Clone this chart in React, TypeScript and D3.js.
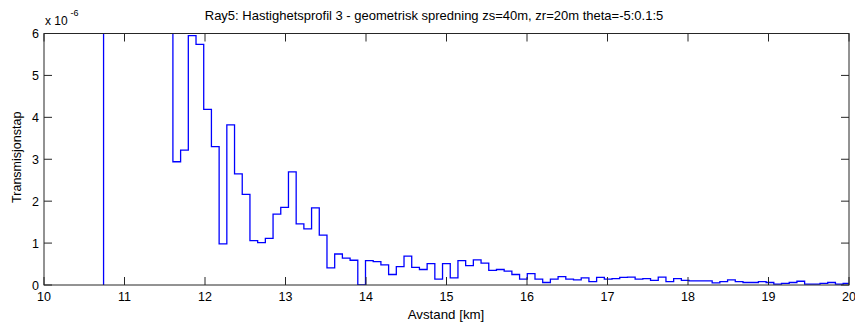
import React from "react";
import * as d3 from "d3";

// x grid of the range bins [km]
const binStart = 10.74;
const binWidth = 0.0957;
// Transmission loss per bin (x 1e-6); first 9 bins are off-scale (> 6)
const values = [
  9.2, 13.5, 17.0, 12.4, 10.1, 8.6, 11.3, 7.8, 6.9,
  2.94, 3.22, 5.95, 5.74, 4.19, 3.3, 0.98, 3.82, 2.65, 2.16,
  1.06, 1.01, 1.11, 1.69, 1.85, 2.7, 1.46, 1.34, 1.84, 1.19,
  0.41, 0.74, 0.64, 0.59, 0.0, 0.58, 0.56, 0.48, 0.25, 0.44,
  0.69, 0.42, 0.37, 0.51, 0.14, 0.51, 0.17, 0.58, 0.46, 0.6,
  0.52, 0.35, 0.37, 0.33, 0.25, 0.14, 0.27, 0.14, 0.06, 0.14,
  0.2, 0.14, 0.12, 0.17, 0.08, 0.18, 0.14, 0.15, 0.18, 0.19,
  0.14, 0.15, 0.11, 0.19, 0.08, 0.15, 0.11, 0.1, 0.1, 0.1,
  0.05, 0.08, 0.12, 0.08, 0.06, 0.06, 0.08, 0.06, 0.02, 0.04,
  0.06, 0.09, 0.02, 0.02, 0.04, 0.06, 0.02, 0.04,
];
const xTicks = [10, 11, 12, 13, 14, 15, 16, 17, 18, 19, 20];
const yTicks = [0, 1, 2, 3, 4, 5, 6];
const title = "Ray5: Hastighetsprofil 3 - geometrisk spredning zs=40m, zr=20m theta=-5:0.1:5";
const xLabel = "Avstand [km]";
const yLabel = "Transmisjonstap";

const W = 855;
const H = 324;
const L = 44, R = 849, T = 33.5, B = 285;
const font = "'Liberation Sans', Arial, sans-serif";
const axisColor = "#262626";

export default function App() {
  const x = d3.scaleLinear().domain([10, 20]).range([L, R]);
  const y = d3.scaleLinear().domain([0, 6]).range([B, T]);

  const pts: [number, number][] = [[binStart, 0]];
  values.forEach((v, i) => pts.push([binStart + i * binWidth, v]));
  pts.push([binStart + values.length * binWidth, values[values.length - 1]]);

  const line = d3
    .line<[number, number]>()
    .x((d) => x(d[0]))
    .y((d) => y(d[1]))
    .curve(d3.curveStepAfter);

  const tl = 8;

  return (
    <svg
      width={W}
      height={H}
      style={{ position: "absolute", left: 0, top: 0, background: "#fff" }}
      fontFamily={font}
    >
      <defs>
        <clipPath id="plotclip">
          <rect x={L} y={T} width={R - L} height={B - T} />
        </clipPath>
      </defs>
      <rect x={0} y={0} width={W} height={H} fill="#fff" />
      <path
        d={line(pts) || ""}
        fill="none"
        stroke="#0000ff"
        strokeWidth={1.3}
        clipPath="url(#plotclip)"
      />
      {/* box */}
      <rect x={L} y={T} width={R - L} height={B - T} fill="none" stroke={axisColor} strokeWidth={1} />
      {xTicks.map((t) => (
        <g key={"x" + t}>
          <line x1={x(t)} x2={x(t)} y1={B} y2={B - tl} stroke={axisColor} />
          <line x1={x(t)} x2={x(t)} y1={T} y2={T + tl} stroke={axisColor} />
          <text x={x(t)} y={301} fontSize={12.5} textAnchor="middle" fill="#000">
            {t}
          </text>
        </g>
      ))}
      {yTicks.map((t) => (
        <g key={"y" + t}>
          <line x1={L} x2={L + tl} y1={y(t)} y2={y(t)} stroke={axisColor} />
          <line x1={R} x2={R - tl} y1={y(t)} y2={y(t)} stroke={axisColor} />
          <text x={39} y={y(t) + 4.5} fontSize={12.5} textAnchor="end" fill="#000">
            {t}
          </text>
        </g>
      ))}
      <text x={45} y={25} fontSize={12} fill="#000">
        x 10
      </text>
      <text x={70.5} y={16} fontSize={9} fill="#000">
        -6
      </text>
      <text x={434} y={20} fontSize={13} textAnchor="middle" fill="#000">
        {title}
      </text>
      <text x={446} y={319} fontSize={13.3} textAnchor="middle" fill="#000">
        {xLabel}
      </text>
      <text
        transform={`translate(21, ${(T + B) / 2 - 2}) rotate(-90)`}
        fontSize={12.5}
        textAnchor="middle"
        fill="#000"
      >
        {yLabel}
      </text>
    </svg>
  );
}
